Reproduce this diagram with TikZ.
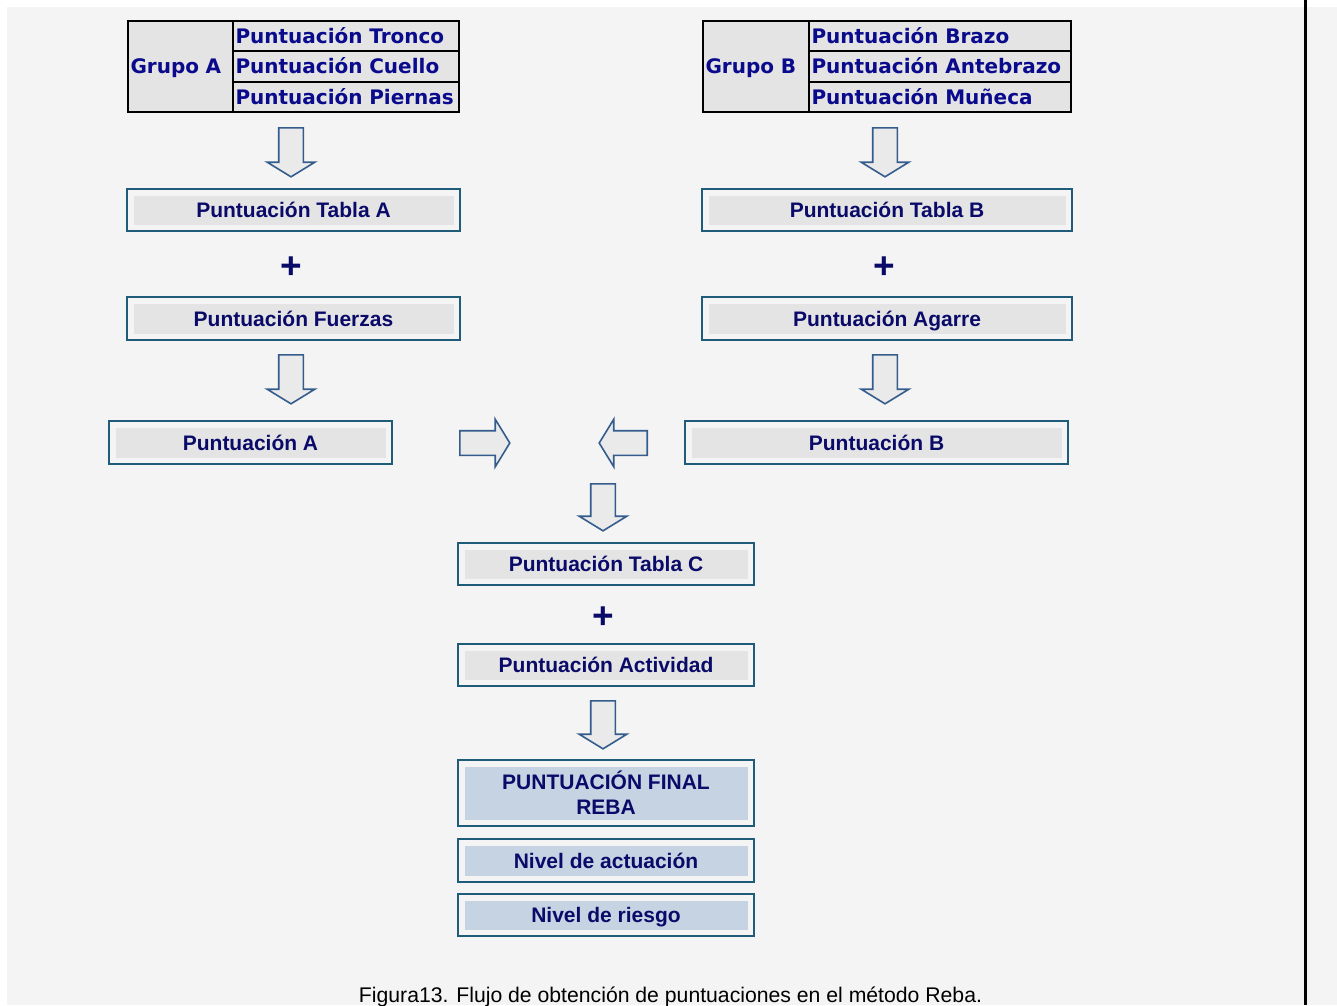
\documentclass[tikz,border=0pt]{standalone}
\usepackage{fontspec}
\setmainfont{Liberation Sans}
\newfontfamily\grupofont{DejaVu Sans}
\usetikzlibrary{shapes.arrows}
\definecolor{fondo}{RGB}{244,244,244}
\definecolor{celda}{RGB}{228,228,228}
\definecolor{azulgris}{RGB}{197,211,227}
\definecolor{marco}{RGB}{30,92,122}
\definecolor{flecha}{RGB}{52,92,140}
\definecolor{flechafondo}{RGB}{234,234,234}
\definecolor{tinta}{RGB}{10,10,105}
\definecolor{tintagrupo}{RGB}{10,10,140}
\tikzset{
  celdagrupo/.style={draw=black,line width=2pt,fill=celda,inner xsep=2.5pt,inner ysep=0pt,
    text width=#1,align=left,minimum height=30.33pt,text height=14.5pt,text depth=0pt,text=tintagrupo,
    font=\grupofont\bfseries\fontsize{20}{22}\selectfont},
  cajabase/.style 2 args={fill=celda,minimum width=#1,minimum height=#2,inner sep=0pt,
    text=tinta,align=center,font=\bfseries\fontsize{21}{25}\selectfont},
  caja/.style 2 args={cajabase={#1}{#2},text height=15pt,text depth=0pt},
  azul/.style={fill=azulgris},
  flechabloque/.style={single arrow,draw=flecha,line width=1.6pt,fill=flechafondo,inner xsep=0pt,inner ysep=11.5pt,
    single arrow head extend=11.5pt,single arrow tip angle=117,minimum height=#1,anchor=tail},
  mas/.style={text=tinta,inner sep=0pt,font=\bfseries\fontsize{37}{37}\selectfont}
}
\begin{document}
\begin{tikzpicture}[x=1pt,y=-1pt]
\useasboundingbox (0,0) rectangle (1337,1005);
\fill[white] (0,0) rectangle (1337,1005);
\fill[fondo] (7,7) rectangle (1337,1005);
\draw[line width=3pt] (1305.5,0)--(1305.5,1005);
% grupo A
\node[celdagrupo=100pt,minimum height=91pt] (grupoA) at (180.5,66.5) {Grupo A};
\node[celdagrupo=221pt] (tronco) at (346,36.2) {Puntuación Tronco};
\node[celdagrupo=221pt] (cuello) at (346,66.5) {Puntuación Cuello};
\node[celdagrupo=221pt] (piernas) at (346,96.8) {Puntuación Piernas};
% grupo B
\node[celdagrupo=101pt,minimum height=91pt] (grupoB) at (756,66.5) {Grupo B};
\node[celdagrupo=257pt] (brazo) at (940,36.2) {Puntuación Brazo};
\node[celdagrupo=257pt] (antebrazo) at (940,66.5) {Puntuación Antebrazo};
\node[celdagrupo=257pt] (muneca) at (940,96.8) {Puntuación Muñeca};
% cajas
\node[caja={320pt}{29pt}] (tablaA) at (293.5,210) {Puntuación Tabla A};
\node[caja={320pt}{30pt}] (fuerzas) at (293.5,318.5) {Puntuación Fuerzas};
\node[caja={270pt}{30pt}] (puntA) at (250.5,442.5) {Puntuación A};
\node[caja={357pt}{29pt}] (tablaB) at (887,210) {Puntuación Tabla B};
\node[caja={357pt}{30pt}] (agarre) at (887,318.5) {Puntuación Agarre};
\node[caja={370pt}{30pt}] (puntB) at (876.5,442.5) {Puntuación B};
\node[caja={283pt}{29pt}] (tablaC) at (606,564) {Puntuación Tabla C};
\node[caja={283pt}{29pt}] (actividad) at (606,665) {Puntuación Actividad};
\node[cajabase={283pt}{53pt},azul] (final) at (606,793) {PUNTUACIÓN FINAL\\REBA};
\node[caja={283pt}{30pt},azul] (actuacion) at (606,860.5) {Nivel de actuación};
\node[caja={283pt}{29pt},azul] (riesgo) at (606,915) {Nivel de riesgo};
\foreach \n in {tablaA,fuerzas,puntA,tablaB,agarre,puntB,tablaC,actividad,final,actuacion,riesgo}
  \draw[marco,line width=2pt] ([shift={(-6.5pt,6.5pt)}]\n.north west) rectangle ([shift={(6.5pt,-6.5pt)}]\n.south east);
% flechas y sumas
\node[flechabloque=49pt,rotate=-90] (bajaA1) at (291,127) {};
\node[flechabloque=49pt,rotate=-90] (bajaA2) at (291,354) {};
\node[flechabloque=49pt,rotate=-90] (bajaB1) at (885,127) {};
\node[flechabloque=49pt,rotate=-90] (bajaB2) at (885,354) {};
\node[flechabloque=50pt] (haciaC) at (459,443) {};
\node[flechabloque=48pt,rotate=180] (desdeB) at (648,443) {};
\node[flechabloque=47pt,rotate=-90] (bajaC1) at (603,483) {};
\node[flechabloque=48pt,rotate=-90] (bajaC2) at (603,700) {};
\node[mas] (masA) at (291,268) {+};
\node[mas] (masB) at (884,268) {+};
\node[mas] (masC) at (603,618) {+};
\node[anchor=base,font=\fontsize{21.2}{25}\selectfont] (pie) at (670.5,1002) {Figura13. Flujo de obtención de puntuaciones en el método Reba.};
\end{tikzpicture}
\end{document}
